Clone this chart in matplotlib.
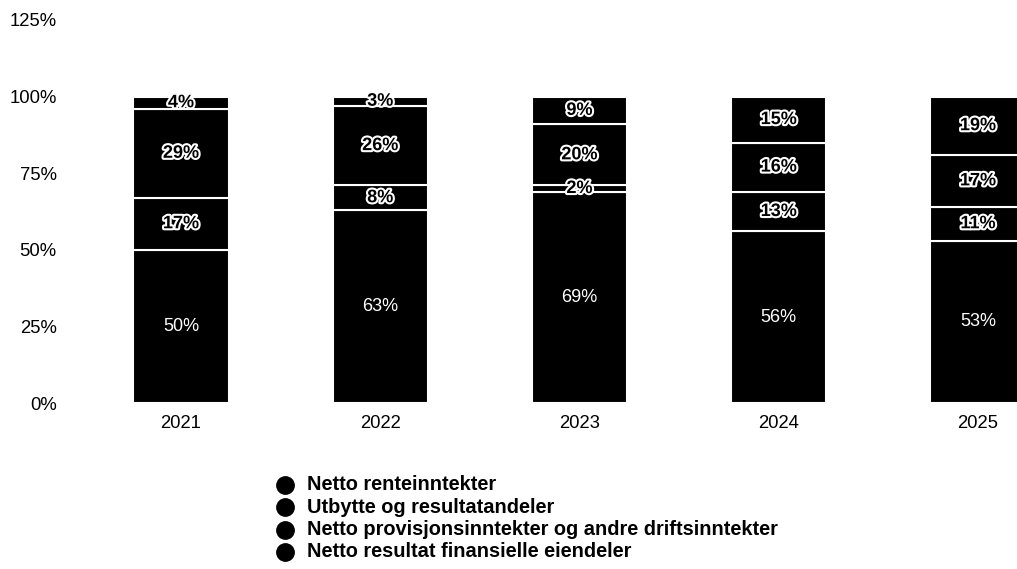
import matplotlib
matplotlib.use("Agg")
import matplotlib.pyplot as plt
import matplotlib.patheffects as pe
from matplotlib.lines import Line2D
import numpy as np

plt.rcParams['font.family'] = ['Liberation Sans', 'DejaVu Sans']

years = ["2021", "2022", "2023", "2024", "2025"]
series_names = [
    "Netto renteinntekter",
    "Utbytte og resultatandeler",
    "Netto provisjonsinntekter og andre driftsinntekter",
    "Netto resultat finansielle eiendeler",
]
netto_renteinntekter = [50, 63, 69, 56, 53]
utbytte = [17, 8, 2, 13, 11]
provisjon = [29, 26, 20, 16, 17]
finansielle = [4, 3, 9, 15, 19]
series_values = [netto_renteinntekter, utbytte, provisjon, finansielle]
y_ticks = [0, 25, 50, 75, 100, 125]

W, H = 1017, 569
fig = plt.figure(figsize=(W / 100, H / 100), dpi=100)

# axes geometry in pixels
ax_left_px, ax_right_px = 70, 1017
y0_px, ytop_px = 403, 20
ax = fig.add_axes([ax_left_px / W, (H - y0_px) / H,
                   (ax_right_px - ax_left_px) / W, (y0_px - ytop_px) / H])

c0, step = 181, 199.25
ax.set_xlim((ax_left_px - c0) / step, (ax_right_px - c0) / step)
ax.set_ylim(0, 125)

x = np.arange(len(years))
bottom = np.zeros(len(years))
for si, vals in enumerate(series_values):
    vals = np.array(vals, dtype=float)
    ax.bar(x, vals, bottom=bottom, width=0.477, color="black",
           edgecolor="white", linewidth=1.5, clip_on=True)
    for xi, (b, v) in enumerate(zip(bottom, vals)):
        yc = b + v / 2
        if si == 0:
            ax.text(xi, yc, f"{int(v)}%", ha="center", va="center",
                    color="white", fontsize=13)
        else:
            ax.text(xi, yc, f"{int(v)}%", ha="center", va="center",
                    color="black", fontsize=13, fontweight="bold",
                    path_effects=[pe.withStroke(linewidth=3.0, foreground="white")])
    bottom += vals

ax.set_xticks(x)
ax.set_xticklabels(years, fontsize=13.3)
ax.set_yticks(y_ticks)
ax.set_yticklabels([f"{t}%" for t in y_ticks], fontsize=13.3)
ax.tick_params(axis="both", length=0)
ax.tick_params(axis="y", pad=9.5)
ax.tick_params(axis="x", pad=8.5)
for s in ax.spines.values():
    s.set_visible(False)

# legend (manual)
row0, row_step = 485, 22.3
for i, name in enumerate(series_names):
    ypx = row0 + i * row_step
    yf = 1 - ypx / H
    fig.add_artist(Line2D([285 / W], [yf], marker="o", markersize=12.5,
                          color="black", linestyle="none",
                          transform=fig.transFigure))
    fig.text(307 / W, yf, name, ha="left", va="center", fontsize=14.4,
             fontweight="bold", color="black")

fig.savefig("out.png", dpi=100)
